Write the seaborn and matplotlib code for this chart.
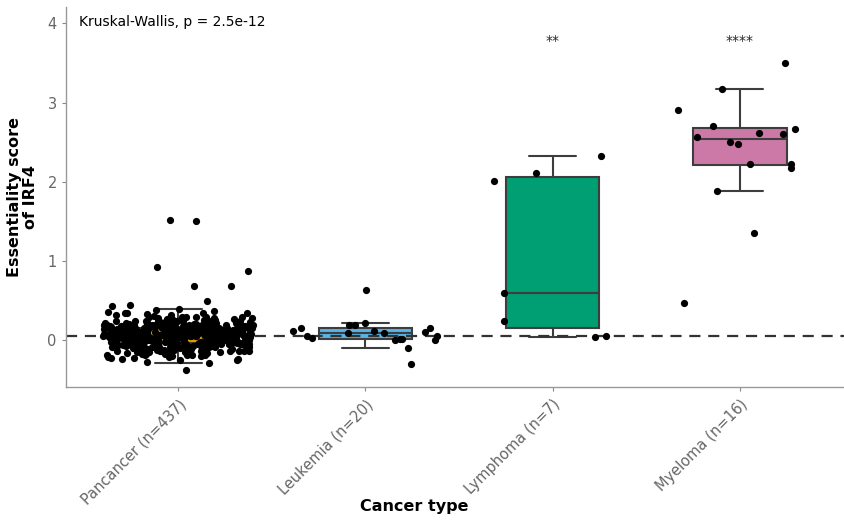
import numpy as np
import pandas as pd
import matplotlib
matplotlib.use("Agg")
import matplotlib.pyplot as plt
import seaborn as sns

sns.set_theme(style="white")
plt.rcParams['font.family'] = ['DejaVu Sans']

categories = ["Pancancer", "Leukemia", "Lymphoma", "Myeloma"]
tick_labels = ["Pancancer (n=437)", "Leukemia (n=20)", "Lymphoma (n=7)", "Myeloma (n=16)"]
colors = ["#E69F00", "#56B4E9", "#009E73", "#CC79A7"]

# essentiality scores
pancancer = [
    -0.37, -0.28, -0.27, -0.25, -0.25,
    -0.24, -0.23, -0.22, -0.22, -0.21, -0.21, -0.20, -0.20,
    -0.19, -0.19, -0.18, -0.18, -0.18, -0.17, -0.17, -0.17, -0.16, -0.16, -0.16, -0.15, -0.15, -0.15, -0.15,
    -0.14, -0.14, -0.14, -0.14, -0.14, -0.13, -0.13, -0.13, -0.13, -0.13,
    -0.12, -0.12, -0.12, -0.12, -0.12, -0.11, -0.11, -0.11, -0.11, -0.11,
    -0.10, -0.10, -0.10, -0.10, -0.10, -0.10,
    -0.09, -0.09, -0.09, -0.09, -0.09, -0.09, -0.09, -0.09,
    -0.08, -0.08, -0.08, -0.08, -0.08, -0.08, -0.08, -0.08,
    -0.07, -0.07, -0.07, -0.07, -0.07, -0.07, -0.07, -0.07, -0.07,
    -0.06, -0.06, -0.06, -0.06, -0.06, -0.06, -0.06, -0.06,
    -0.05, -0.05, -0.05, -0.05, -0.05, -0.05, -0.05, -0.05, -0.05,
    -0.04, -0.04, -0.04, -0.04, -0.04, -0.04, -0.04, -0.04, -0.04, -0.04, -0.04,
    -0.03, -0.03, -0.03, -0.03, -0.03, -0.03, -0.03, -0.03, -0.03, -0.03, -0.03,
    -0.02, -0.02, -0.02, -0.02, -0.02, -0.02, -0.02, -0.02, -0.02, -0.02, -0.02,
    -0.01, -0.01, -0.01, -0.01, -0.01, -0.01, -0.01, -0.01, -0.01, -0.01, -0.01,
    0.00, 0.00, 0.00, 0.00, 0.00, 0.00, 0.00, 0.00, 0.00, 0.00, 0.00,
    0.01, 0.01, 0.01, 0.01, 0.01, 0.01, 0.01, 0.01, 0.01, 0.01, 0.01, 0.01,
    0.02, 0.02, 0.02, 0.02, 0.02, 0.02, 0.02, 0.02, 0.02, 0.02, 0.02, 0.02,
    0.03, 0.03, 0.03, 0.03, 0.03, 0.03, 0.03, 0.03, 0.03, 0.03, 0.03, 0.03, 0.03,
    0.04, 0.04, 0.04, 0.04, 0.04, 0.04, 0.04, 0.04, 0.04, 0.04, 0.04, 0.04,
    0.05, 0.05, 0.05, 0.05, 0.05, 0.05, 0.05, 0.05, 0.05, 0.05, 0.05, 0.05, 0.05,
    0.06, 0.06, 0.06, 0.06, 0.06, 0.06, 0.06, 0.06, 0.06, 0.06, 0.06, 0.06, 0.06,
    0.07, 0.07, 0.07, 0.07, 0.07, 0.07, 0.07, 0.07, 0.07, 0.07, 0.07, 0.07,
    0.08, 0.08, 0.08, 0.08, 0.08, 0.08, 0.08, 0.08, 0.08, 0.08, 0.08, 0.08, 0.08,
    0.09, 0.09, 0.09, 0.09, 0.09, 0.09, 0.09, 0.09, 0.09, 0.09, 0.09, 0.09,
    0.10, 0.10, 0.10, 0.10, 0.10, 0.10, 0.10, 0.10, 0.10, 0.10, 0.10, 0.10,
    0.11, 0.11, 0.11, 0.11, 0.11, 0.11, 0.11, 0.11, 0.11, 0.11, 0.11,
    0.12, 0.12, 0.12, 0.12, 0.12, 0.12, 0.12, 0.12, 0.12, 0.12, 0.12,
    0.13, 0.13, 0.13, 0.13, 0.13, 0.13, 0.13, 0.13, 0.13, 0.13, 0.13,
    0.14, 0.14, 0.14, 0.14, 0.14, 0.14, 0.14, 0.14, 0.14, 0.14, 0.14,
    0.15, 0.15, 0.15, 0.15, 0.15, 0.15, 0.15, 0.15, 0.15, 0.15, 0.15,
    0.16, 0.16, 0.16, 0.16, 0.16, 0.16, 0.16, 0.16, 0.16,
    0.17, 0.17, 0.17, 0.17, 0.17, 0.17, 0.17, 0.17, 0.17,
    0.18, 0.18, 0.18, 0.18, 0.18, 0.18, 0.18, 0.18,
    0.19, 0.19, 0.19, 0.19, 0.19, 0.19, 0.19, 0.19,
    0.20, 0.20, 0.20, 0.20, 0.20, 0.20, 0.20, 0.20,
    0.21, 0.21, 0.21, 0.21, 0.21, 0.21, 0.22, 0.22, 0.22, 0.22, 0.22, 0.22,
    0.23, 0.23, 0.23, 0.23, 0.23, 0.23, 0.24, 0.24, 0.24, 0.24, 0.24,
    0.25, 0.25, 0.25, 0.25, 0.25,
    0.26, 0.26, 0.26, 0.26, 0.27, 0.27, 0.27, 0.28, 0.28, 0.28,
    0.29, 0.29, 0.29, 0.30, 0.30, 0.30,
    0.31, 0.32, 0.32, 0.33, 0.34, 0.34, 0.35, 0.35,
    0.36, 0.37, 0.38, 0.39,
    0.43, 0.44, 0.50, 0.68, 0.68, 0.87, 0.93, 1.51, 1.52,
]
leukemia = [0.64, 0.20, 0.06, 0.09, 0.03, 0.01, 0.01, 0.10, 0.12, 0.12,
            -0.30, 0.16, 0.02, 0.20, 0.09, 0.02, 0.05, -0.10, 0.22, 0.15]
lymphoma = [2.33, 2.11, 2.01, 0.60, 0.06, 0.25, 0.04]
myeloma = [3.50, 2.91, 2.50, 2.60, 2.48, 2.67, 3.17, 2.62, 2.57, 2.23,
           2.18, 2.23, 2.70, 1.89, 1.35, 0.47]

ref_line = 0.05
kw_text = "Kruskal-Wallis, p = 2.5e-12"
signif = {"Lymphoma": "**", "Myeloma": "****"}

groups = [pancancer, leukemia, lymphoma, myeloma]
df = pd.DataFrame({
    "type": np.repeat(categories, [len(g) for g in groups]),
    "score": np.concatenate(groups),
})

fig = plt.figure(figsize=(8.44, 5.21), dpi=100)
ax = fig.add_axes([0.078, 0.257, 0.922, 0.730])

sns.boxplot(data=df, x="type", y="score", hue="type", order=categories,
            palette=colors, saturation=1, width=0.5, showfliers=False,
            linecolor="#3d3d3d", linewidth=1.5, legend=False, ax=ax, zorder=1)
ax.axhline(ref_line, color="#333333", linewidth=1.6, linestyle=(0, (5, 3.5)), zorder=2.5)
np.random.seed(3)
sns.stripplot(data=df, x="type", y="score", order=categories, color="black",
              size=5.2, jitter=0.4, linewidth=0, ax=ax, zorder=3)

ax.text(-0.53, 3.97, kw_text, fontsize=10, color="black", ha="left", va="baseline")
for cat, star in signif.items():
    ax.text(categories.index(cat), 3.73, star, fontsize=10, ha="center", va="baseline")

ax.set_xlim(-0.6, 3.556)
ax.set_ylim(-0.59, 4.21)
ax.set_yticks([0, 1, 2, 3, 4])
ax.set_xticks(range(len(categories)))
ax.set_xticklabels(tick_labels, rotation=45, ha="right", rotation_mode="anchor")
ax.tick_params(axis="both", colors="#888888", labelcolor="#666666", labelsize=10.5,
               length=3, width=0.8, bottom=True, left=True, direction="out")
ax.tick_params(axis="x", pad=4)
for s in ["top", "right"]:
    ax.spines[s].set_visible(False)
for s in ["left", "bottom"]:
    ax.spines[s].set_color("#999999")
    ax.spines[s].set_linewidth(1.0)

ax.set_xlabel("Cancer type", fontsize=11.5, fontweight="bold", color="black")
ax.set_ylabel("Essentiality score\nof IRF4", fontsize=11.5, fontweight="bold",
              color="black", linespacing=1.05)
ax.xaxis.set_label_coords(0.448, -0.295)
ax.yaxis.set_label_coords(-0.036, 0.5)

fig.savefig("out.png", dpi=100)
